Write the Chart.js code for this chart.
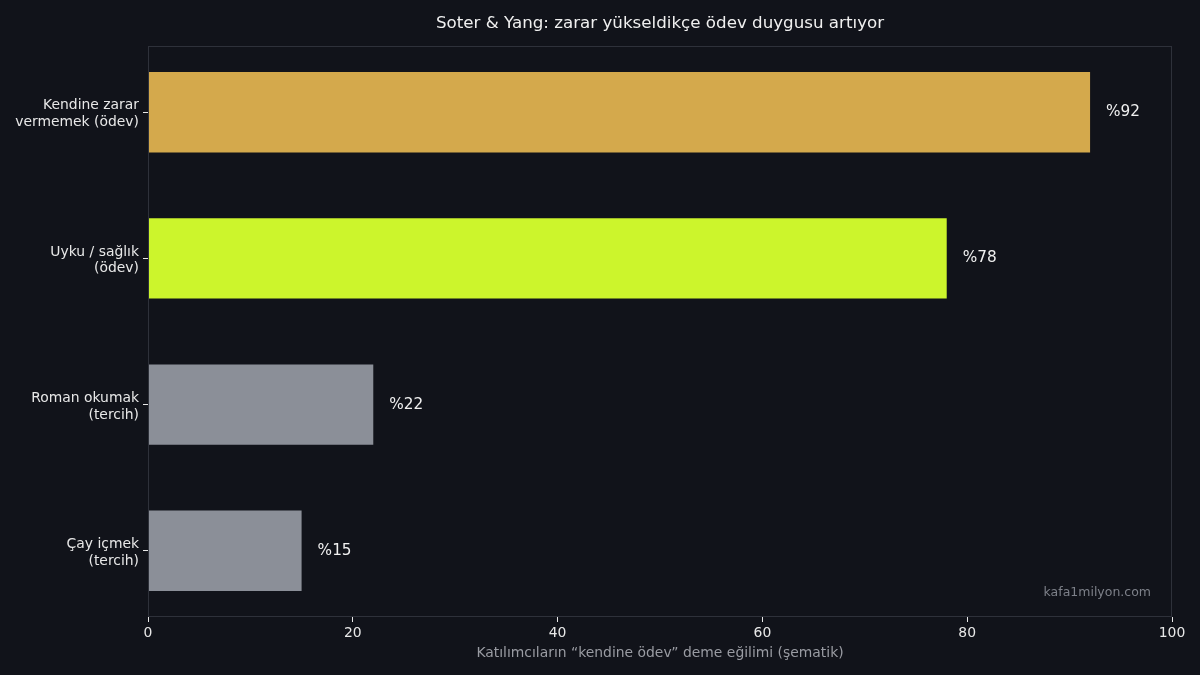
<!DOCTYPE html>
<html>
<head>
<meta charset="utf-8">
<script src="https://cdn.jsdelivr.net/npm/chart.js@4.4.1/dist/chart.umd.min.js"></script>
<style>
html,body{margin:0;padding:0;background:#11131a;}
canvas{display:block;}
</style>
</head>
<body>
<canvas id="c" width="1200" height="675"></canvas>
<script>
const categories = ["Kendine zarar\nvermemek (ödev)", "Uyku / sağlık\n(ödev)", "Roman okumak\n(tercih)", "Çay içmek\n(tercih)"];
const values = [92, 78, 22, 15];
const barColors = ["#d4a94c", "#ccf52c", "#8b8f98", "#8b8f98"];
const xTicks = [0, 20, 40, 60, 80, 100];
const titleText = "Soter & Yang: zarar yükseldikçe ödev duygusu artıyor";
const xTitle = "Katılımcıların “kendine ödev” deme eğilimi (şematik)";
const watermark = "kafa1milyon.com";

const FONT = "'DejaVu Sans', sans-serif";
const data = values.map((v, i) => ({x: v, y: i}));

const decor = {
  id: 'decor',
  beforeDraw(chart) {
    const ctx = chart.ctx;
    ctx.save();
    ctx.fillStyle = '#11131a';
    ctx.fillRect(0, 0, chart.width, chart.height);
    ctx.restore();
  },
  afterDatasetsDraw(chart) {
    const ctx = chart.ctx;
    const a = chart.chartArea;
    ctx.save();
    ctx.strokeStyle = '#2e313a';
    ctx.lineWidth = 1;
    ctx.strokeRect(a.left + 0.5, a.top + 0.5, a.right - a.left - 1, a.bottom - a.top - 1);
    const meta = chart.getDatasetMeta(0);
    ctx.fillStyle = '#f0f0f0';
    ctx.font = "15.3px " + FONT;
    ctx.textAlign = 'left';
    ctx.textBaseline = 'middle';
    meta.data.forEach((bar, i) => {
      ctx.fillText('%' + values[i], bar.x + 16, bar.y);
    });
    ctx.font = "16.7px " + FONT;
    ctx.textAlign = 'center';
    ctx.fillStyle = '#f0f0f0';
    ctx.fillText(titleText, (a.left + a.right) / 2, 24);
    ctx.font = "12.5px " + FONT;
    ctx.textAlign = 'right';
    ctx.fillStyle = '#7d8089';
    ctx.fillText(watermark, a.right - 21, a.bottom - 24);
    ctx.restore();
  }
};

new Chart(document.getElementById('c'), {
  type: 'bar',
  data: {
    datasets: [{
      data: data,
      backgroundColor: barColors,
      borderWidth: 0,
      barPercentage: 0.55,
      categoryPercentage: 1.0
    }]
  },
  options: {
    indexAxis: 'y',
    responsive: false,
    devicePixelRatio: 1,
    animation: false,
    layout: {padding: {top: 46, right: 28, left: 0, bottom: 0}},
    plugins: {legend: {display: false}, tooltip: {enabled: false}, title: {display: false}},
    scales: {
      x: {
        type: 'linear',
        min: 0, max: 100,
        offset: false,
        afterBuildTicks(scale) { scale.ticks = xTicks.map(v => ({value: v})); },
        afterFit(scale) { scale.height = 58; },
        grid: {drawOnChartArea: false, drawTicks: true, tickLength: 5, tickColor: '#e8e8e8', color: '#2e313a', offset: false},
        border: {display: false},
        ticks: {color: '#e8e8e8', font: {family: FONT, size: 13.9}, padding: 3, maxRotation: 0},
        title: {display: true, text: xTitle, color: '#9a9ca3', font: {family: FONT, size: 13.9}, padding: {top: 0, bottom: 13}}
      },
      y: {
        type: 'linear',
        reverse: true,
        offset: false,
        min: -0.4525, max: 3.4525,
        afterBuildTicks(scale) { scale.ticks = categories.map((_, i) => ({value: i})); },
        afterFit(scale) { scale.width = 148; },
        grid: {drawOnChartArea: false, drawTicks: true, tickLength: 5, tickColor: '#e8e8e8', color: '#2e313a', offset: false},
        border: {display: false},
        ticks: {
          color: '#e8e8e8',
          font: {family: FONT, size: 13.9, lineHeight: 1.2},
          padding: 4,
          labelOffset: 2,
          callback: (v) => categories[v] !== undefined ? categories[v].split('\n') : ''
        }
      }
    }
  },
  plugins: [decor]
});
</script>
</body>
</html>
